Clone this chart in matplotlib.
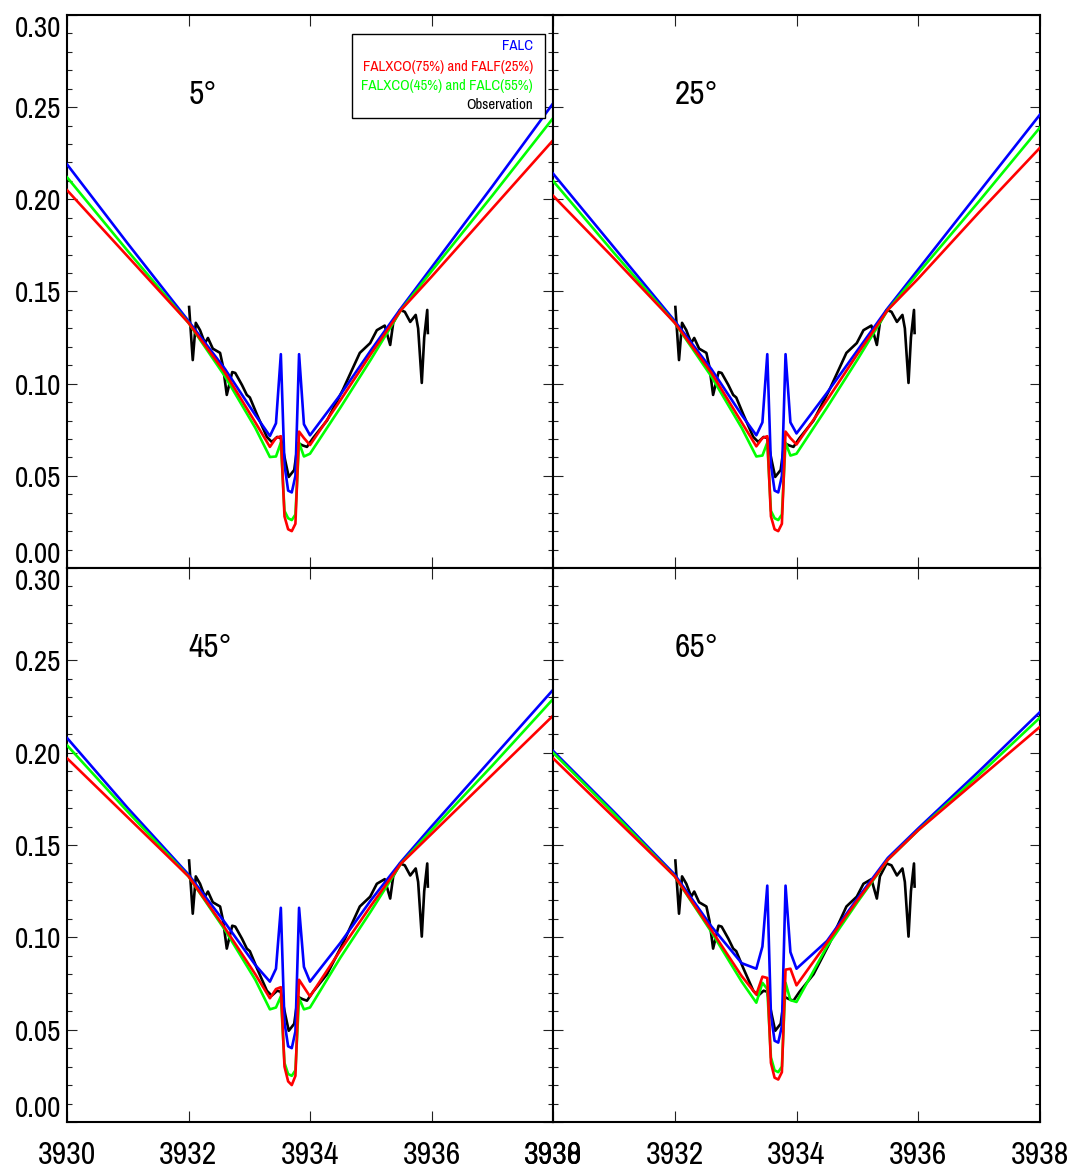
import matplotlib
matplotlib.use("Agg")
import matplotlib.pyplot as plt
from matplotlib import font_manager
from matplotlib.ticker import MultipleLocator, FormatStrFormatter
from matplotlib.patches import Rectangle


def pick_font():
    """Prefer a narrow sans face for the compact IDL-like lettering."""
    entries = font_manager.fontManager.ttflist
    for e in entries:
        if "Narrow" in e.name and "Liberation" in e.name:
            return e.name, "normal"
    for e in entries:
        if "Condensed" in e.name or "Narrow" in e.name:
            return e.name, "normal"
    for e in entries:
        if e.name in ("Noto Sans", "Roboto", "Open Sans", "Liberation Sans") and \
                str(e.stretch) in ("condensed", "semi-condensed", "extra-condensed"):
            return e.name, str(e.stretch)
    return "Liberation Sans", "normal"


FONT, STRETCH = pick_font()
plt.rcParams["font.family"] = [FONT, "DejaVu Sans"]
plt.rcParams["font.stretch"] = STRETCH

# ---------------------------------------------------------------------------
# Ca II K line profiles: wavelength grid (Angstrom) of the synthetic spectra
wl_model = [3930.0, 3931.0, 3932.0, 3932.6, 3933.1, 3933.34, 3933.44, 3933.52,
            3933.58, 3933.64, 3933.70, 3933.76, 3933.82, 3933.90, 3934.0,
            3934.5, 3935.0, 3935.5, 3936.0, 3937.0, 3938.0]

# FALC model
falc_05 = [0.219, 0.176, 0.134, 0.108, 0.083, 0.0716, 0.0785, 0.116, 0.056, 0.042,
           0.041, 0.050, 0.116, 0.078, 0.072, 0.094, 0.118, 0.141, 0.163, 0.207, 0.252]
falc_25 = [0.214, 0.174, 0.134, 0.108, 0.083, 0.072, 0.079, 0.116, 0.056, 0.042,
           0.041, 0.050, 0.116, 0.079, 0.073, 0.095, 0.118, 0.141, 0.162, 0.204, 0.246]
falc_45 = [0.208, 0.170, 0.134, 0.108, 0.085, 0.076, 0.083, 0.116, 0.054, 0.041,
           0.040, 0.049, 0.116, 0.084, 0.076, 0.097, 0.120, 0.141, 0.160, 0.197, 0.234]
falc_65 = [0.201, 0.168, 0.134, 0.106, 0.086, 0.083, 0.095, 0.128, 0.058, 0.044,
           0.043, 0.052, 0.128, 0.092, 0.083, 0.098, 0.121, 0.143, 0.159, 0.190, 0.222]

# FALXCO(75%) + FALF(25%)
mix75_05 = [0.205, 0.169, 0.133, 0.106, 0.079, 0.0657, 0.0705, 0.0715, 0.028, 0.021,
            0.020, 0.024, 0.074, 0.0705, 0.0667, 0.091, 0.116, 0.140, 0.158, 0.195, 0.232]
mix75_25 = [0.202, 0.168, 0.133, 0.106, 0.079, 0.066, 0.0705, 0.0715, 0.028, 0.021,
            0.020, 0.024, 0.074, 0.0705, 0.067, 0.091, 0.116, 0.140, 0.157, 0.193, 0.228]
mix75_45 = [0.197, 0.165, 0.133, 0.105, 0.080, 0.067, 0.072, 0.073, 0.030, 0.022,
            0.020, 0.025, 0.077, 0.073, 0.068, 0.093, 0.117, 0.140, 0.156, 0.188, 0.220]
mix75_65 = [0.197, 0.165, 0.133, 0.104, 0.079, 0.069, 0.0787, 0.078, 0.032, 0.024,
            0.023, 0.027, 0.0825, 0.083, 0.074, 0.097, 0.120, 0.142, 0.158, 0.186, 0.214]

# FALXCO(45%) + FALC(55%)
mix45_05 = [0.212, 0.172, 0.133, 0.104, 0.076, 0.0602, 0.0605, 0.068, 0.031, 0.027,
            0.026, 0.029, 0.068, 0.0605, 0.062, 0.087, 0.113, 0.140, 0.161, 0.202, 0.244]
mix45_25 = [0.210, 0.171, 0.133, 0.104, 0.076, 0.0605, 0.061, 0.068, 0.031, 0.027,
            0.026, 0.029, 0.068, 0.061, 0.062, 0.087, 0.113, 0.140, 0.160, 0.199, 0.239]
mix45_45 = [0.204, 0.168, 0.133, 0.104, 0.077, 0.061, 0.062, 0.068, 0.032, 0.026,
            0.025, 0.028, 0.067, 0.061, 0.062, 0.089, 0.114, 0.140, 0.158, 0.193, 0.229]
mix45_65 = [0.200, 0.167, 0.133, 0.103, 0.076, 0.0646, 0.0754, 0.072, 0.035, 0.028,
            0.027, 0.030, 0.0754, 0.066, 0.065, 0.095, 0.119, 0.142, 0.158, 0.188, 0.219]

# observed profile
obs_wl = [3932.01, 3932.07, 3932.12, 3932.19, 3932.27, 3932.32, 3932.40, 3932.52,
          3932.57, 3932.63, 3932.72, 3932.77, 3932.88, 3932.96, 3933.01, 3933.13,
          3933.29, 3933.37, 3933.46, 3933.52, 3933.59, 3933.65, 3933.74, 3933.80,
          3933.88, 3933.95, 3934.05, 3934.28, 3934.54, 3934.82, 3934.99, 3935.10,
          3935.23, 3935.32, 3935.37, 3935.48, 3935.56, 3935.65, 3935.74, 3935.78,
          3935.84, 3935.88, 3935.93, 3935.94]
obs_flux = [0.1416, 0.1128, 0.133, 0.129, 0.122, 0.1248, 0.119, 0.1167, 0.109, 0.0939,
            0.1063, 0.1058, 0.0993, 0.0939, 0.0925, 0.083, 0.0711, 0.0684, 0.0711, 0.0705,
            0.0586, 0.0494, 0.0532, 0.0678, 0.0665, 0.0657, 0.0705, 0.080, 0.0966, 0.1167,
            0.122, 0.129, 0.1315, 0.121, 0.133, 0.140, 0.139, 0.1335, 0.1373, 0.130,
            0.1004, 0.125, 0.140, 0.1275]

angle_labels = ["5°", "25°", "45°", "65°"]
legend_labels = ["FALC", "FALXCO(75%) and FALF(25%)",
                 "FALXCO(45%) and FALC(55%)", "Observation"]
x_ticks = [3930, 3932, 3934, 3936, 3938]
y_ticks = [0.00, 0.05, 0.10, 0.15, 0.20, 0.25, 0.30]

falc_sets = [falc_05, falc_25, falc_45, falc_65]
mix75_sets = [mix75_05, mix75_25, mix75_45, mix75_65]
mix45_sets = [mix45_05, mix45_25, mix45_45, mix45_65]

C_FALC, C_MIX75, C_MIX45, C_OBS = "#0000ff", "#ff0000", "#00ff00", "#000000"
LW = 1.9

W, H = 1076, 1175
fig = plt.figure(figsize=(W / 100, H / 100), dpi=100)


def frac_rect(x0, y0, x1, y1):
    return [x0 / W, 1 - y1 / H, (x1 - x0) / W, (y1 - y0) / H]


rects = [frac_rect(67, 15, 553, 568), frac_rect(553, 15, 1040, 568),
         frac_rect(67, 568, 553, 1122), frac_rect(553, 568, 1040, 1122)]

axes = []
for i, r in enumerate(rects):
    ax = fig.add_axes(r)
    axes.append(ax)
    ax.plot(obs_wl, obs_flux, color=C_OBS, lw=LW, zorder=3)
    ax.plot(wl_model, falc_sets[i], color=C_FALC, lw=LW, zorder=4)
    ax.plot(wl_model, mix45_sets[i], color=C_MIX45, lw=LW, zorder=5)
    ax.plot(wl_model, mix75_sets[i], color=C_MIX75, lw=LW, zorder=6)

    ax.set_xlim(3930, 3938)
    ax.set_ylim(0.0, 0.30)
    ax.set_xticks(x_ticks)
    ax.set_yticks(y_ticks)
    ax.yaxis.set_minor_locator(MultipleLocator(0.01))
    ax.yaxis.set_major_formatter(FormatStrFormatter("%.2f"))
    ax.xaxis.set_major_formatter(FormatStrFormatter("%d"))

    for sp in ax.spines.values():
        sp.set_linewidth(1.5)
    ax.tick_params(axis="x", which="major", direction="in", length=8, width=0.8,
                   top=True, bottom=True, labelsize=23, pad=14, color="#222222")
    ax.tick_params(axis="y", which="major", direction="in", length=7, width=0.8,
                   left=True, right=True, labelsize=21, pad=4, color="#222222")
    ax.tick_params(axis="y", which="minor", direction="in", length=3.6, width=0.8,
                   left=True, right=True, color="#222222")

    if i < 2:
        ax.tick_params(axis="x", labelbottom=False)
    if i % 2 == 1:
        ax.tick_params(axis="y", labelleft=False)
    else:
        yt = ax.yaxis.get_major_ticks()
        yt[0].label1.set_va("bottom")
        yt[-1].label1.set_va("top")

    ax.text(3932.0, 0.2566, angle_labels[i], fontsize=24, ha="left", va="center")

# legend box in the first panel
ax0 = axes[0]
ax0.add_patch(Rectangle((0.5864, 0.8137), 0.9835 - 0.5864, 0.9656 - 0.8137,
                        transform=ax0.transAxes, facecolor="white",
                        edgecolor="black", lw=1.0, zorder=10))
leg_colors = [C_FALC, C_MIX75, C_MIX45, C_OBS]
leg_y = [0.944, 0.906, 0.8716, 0.837]
leg_texts = []
for lab, col, yy in zip(legend_labels, leg_colors, leg_y):
    leg_texts.append(ax0.text(0.9588, yy, lab, color=col, fontsize=14, ha="right",
                              va="center", transform=ax0.transAxes, zorder=11))

# shrink the legend lettering so the longest entry fits inside the frame
fig.canvas.draw()
renderer = fig.canvas.get_renderer()
widest = max(t.get_window_extent(renderer).width for t in leg_texts)
size = min(14.0, 14.0 * 172.0 / widest)
for t in leg_texts:
    t.set_fontsize(size)

fig.savefig("out.png", dpi=100)
